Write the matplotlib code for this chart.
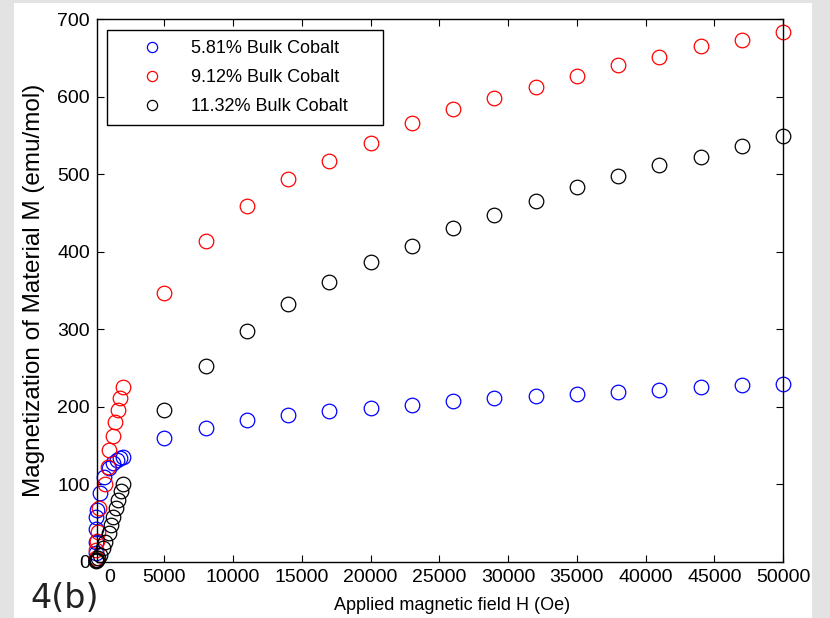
import numpy as np
import matplotlib
matplotlib.use("Agg")
import matplotlib.pyplot as plt
from matplotlib.patches import Rectangle

plt.rcParams['font.family'] = ['Liberation Sans', 'DejaVu Sans']

# magnetisation data, H in Oe, M in emu/mol
H_high = [5000, 8000, 11000, 14000, 17000, 20000, 23000, 26000,
          29000, 32000, 35000, 38000, 41000, 44000, 47000, 50000]

H_low_581 = [0, 10, 20, 40, 60, 100, 340, 580, 940, 1300, 1550, 1790, 2000]
M_low_581 = [3, 12, 26, 43, 58, 67, 89, 110, 121, 127, 131, 134, 136]
M_high_581 = [160, 173, 183, 190, 195, 199, 202, 208,
              211, 214, 217, 219, 222, 226, 228, 229]

H_low_912 = [10, 50, 100, 140, 260, 680, 870, 940, 1230, 1430, 1600, 1800, 2000]
M_low_912 = [5, 15, 27, 39, 69, 101, 123, 144, 162, 180, 196, 211, 225]
M_high_912 = [347, 414, 459, 494, 517, 540, 566, 584,
              598, 612, 627, 641, 651, 665, 673, 683]

H_low_1132 = [10, 50, 100, 200, 350, 550, 700, 950, 1100, 1300, 1500, 1650, 1850, 2000]
M_low_1132 = [1, 2, 3, 5, 9, 18, 26, 37, 48, 58, 69, 80, 91, 101]
M_high_1132 = [196, 253, 298, 333, 361, 387, 407, 431,
               447, 465, 483, 498, 512, 522, 536, 549]

labels = ['5.81% Bulk Cobalt', '9.12% Bulk Cobalt', '11.32% Bulk Cobalt']
colors = ['#0000ff', '#ff0000', '#000000']

series = [
    (H_low_581 + H_high, M_low_581 + M_high_581),
    (H_low_912 + H_high, M_low_912 + M_high_912),
    (H_low_1132 + H_high, M_low_1132 + M_high_1132),
]

fig = plt.figure(figsize=(8.3, 6.18), dpi=100)
fig.patch.set_facecolor('#e3e3e3')
fig.patches.append(Rectangle((14 / 830, 0), 798 / 830, 615 / 618,
                             transform=fig.transFigure, facecolor='white',
                             edgecolor='none', zorder=-5))

ax = fig.add_axes([97 / 830, 1 - 562 / 618, 686 / 830, 543 / 618])
ax.set_facecolor('white')

for (h, m), lab, c in zip(series, labels, colors):
    ax.plot(h, m, linestyle='none', marker='o', markersize=10.5,
            markerfacecolor='none', markeredgecolor=c, markeredgewidth=0.9,
            label=lab, clip_on=False)

ax.set_xlim(100, 50000)
ax.set_ylim(0, 700)
ax.set_xticks(np.arange(5000, 50001, 5000))
ax.set_yticks(np.arange(0, 701, 100))
ax.tick_params(direction='in', length=5, width=0.8, top=True, right=True,
               labelsize=14, pad=5)
for s in ax.spines.values():
    s.set_linewidth(1.0)

fig.text(110 / 830, 1 - 578 / 618, '0', ha='center', va='center', fontsize=14)

ax.set_xlabel('Applied magnetic field H (Oe)', fontsize=13)
ax.xaxis.set_label_coords(0.5175, -0.064)
ax.set_ylabel('Magnetization of Material M (emu/mol)', fontsize=17.5)
ax.yaxis.set_label_coords(-0.076, 0.5)

leg = ax.legend(loc='upper left',
                bbox_to_anchor=(107 / 830, 1 - 30 / 618 - 0.01, 276 / 830, 0.01),
                bbox_transform=fig.transFigure, mode='expand',
                fontsize=13, frameon=True, fancybox=False, framealpha=1,
                edgecolor='black', borderpad=0.55, labelspacing=0.67,
                handlelength=3.85, handletextpad=0.25, markerscale=0.7,
                borderaxespad=0)
leg.get_frame().set_linewidth(1.0)

fig.text(30 / 830, 1 - 608 / 618, '4(b)', fontsize=24, color='#222222',
         family='DejaVu Sans', ha='left', va='baseline')

fig.savefig('out.png', dpi=100)
